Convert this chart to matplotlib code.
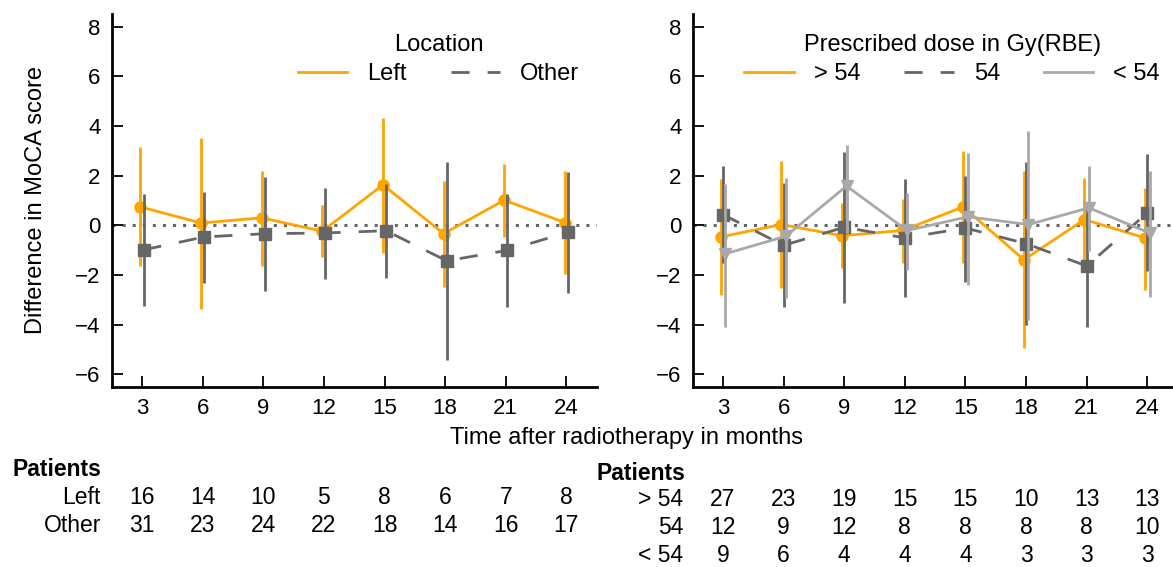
import numpy as np
import matplotlib.pyplot as plt
from matplotlib import transforms

plt.rcParams['font.family'] = ['Liberation Sans', 'DejaVu Sans']

months = [3, 6, 9, 12, 15, 18, 21, 24]

# Location: mean difference and confidence interval per time point
left_mean = [0.74, 0.09, 0.30, -0.24, 1.63, -0.34, 1.01, 0.11]
left_lo = [-1.66, -3.37, -1.62, -1.26, -1.10, -2.47, -0.47, -1.96]
left_hi = [3.16, 3.50, 2.20, 0.82, 4.33, 1.77, 2.46, 2.20]
other_mean = [-0.99, -0.47, -0.34, -0.31, -0.22, -1.43, -1.01, -0.28]
other_lo = [-3.24, -2.33, -2.65, -2.16, -2.13, -5.41, -3.28, -2.73]
other_hi = [1.27, 1.35, 1.94, 1.51, 1.67, 2.54, 1.27, 2.13]

# Prescribed dose groups
high_mean = [-0.47, 0.03, -0.42, -0.21, 0.74, -1.39, 0.23, -0.51]
high_lo = [-2.81, -2.53, -1.72, -1.50, -1.52, -4.96, -1.50, -2.60]
high_hi = [1.85, 2.59, 0.91, 1.07, 3.00, 2.19, 1.92, 1.51]
mid_mean = [0.43, -0.81, -0.08, -0.51, -0.11, -0.74, -1.64, 0.50]
mid_lo = [-1.52, -3.28, -3.12, -2.87, -2.27, -4.02, -4.09, -1.86]
mid_hi = [2.39, 1.72, 2.96, 1.85, 1.98, 2.53, 0.85, 2.86]
low_mean = [-1.15, -0.44, 1.58, -0.21, 0.34, 0.03, 0.70, -0.31]
low_lo = [-4.09, -2.94, -0.30, -1.79, -2.40, -3.82, -1.05, -2.87]
low_hi = [1.65, 1.92, 3.23, 1.28, 2.93, 3.81, 2.39, 2.19]

# patients per group and time point
n_left = [16, 14, 10, 5, 8, 6, 7, 8]
n_other = [31, 23, 24, 22, 18, 14, 16, 17]
n_high = [27, 23, 19, 15, 15, 10, 13, 13]
n_mid = [12, 9, 12, 8, 8, 8, 8, 10]
n_low = [9, 6, 4, 4, 4, 3, 3, 3]

ORANGE = '#FFA500'
DARK = '#666666'
LIGHT = '#A9A9A9'
LW = 2.0
DASH = (6.5, 6.5)
TICK_FS = 16
TABLE_FS = 16.5
LABEL_FS = 17


def draw_series(ax, offset, mean, lo, hi, color, marker, dashed, z):
    x = np.arange(len(mean)) + offset
    ax.vlines(x, lo, hi, color=color, lw=LW, zorder=z)
    line, = ax.plot(x, mean, color=color, lw=LW, marker=marker, ms=8,
                    mec=color, zorder=z + 0.5, solid_joinstyle='round')
    if dashed:
        line.set_dashes(DASH)
    # plain line for the legend
    handle = plt.Line2D([], [], color=color, lw=LW)
    if dashed:
        handle.set_dashes(DASH)
    return handle


def style_axes(ax):
    ax.axhline(0, color=DARK, lw=2.2, dashes=(1, 2.3), zorder=1)
    ax.set_xlim(-0.5, 7.5)
    ax.set_ylim(-6.5, 8.5)
    ax.set_yticks([-6, -4, -2, 0, 2, 4, 6, 8])
    ax.set_xticks(range(len(months)))
    ax.set_xticklabels([str(m) for m in months])
    for side in ('top', 'right'):
        ax.spines[side].set_visible(False)
    for side in ('left', 'bottom'):
        ax.spines[side].set_linewidth(2)
    ax.tick_params(direction='in', length=8, width=1.3, labelsize=TICK_FS)
    ax.tick_params(axis='x', pad=8.5)
    ax.tick_params(axis='y', pad=8)


fig = plt.figure(figsize=(11.73, 5.67), dpi=100)
ax1 = fig.add_axes([0.0952, 0.318, 0.4135, 0.657])
ax2 = fig.add_axes([0.5905, 0.318, 0.4135, 0.657])

style_axes(ax1)
style_axes(ax2)

h_left = [
    draw_series(ax1, -0.025, left_mean, left_lo, left_hi, ORANGE, 'o', False, 2),
    draw_series(ax1, 0.025, other_mean, other_lo, other_hi, DARK, 's', True, 3),
]
h_dose = [
    draw_series(ax2, -0.0375, high_mean, high_lo, high_hi, ORANGE, 'o', False, 2),
    draw_series(ax2, 0.0, mid_mean, mid_lo, mid_hi, DARK, 's', True, 3),
    draw_series(ax2, 0.0375, low_mean, low_lo, low_hi, LIGHT, 'v', False, 4),
]

ax1.set_ylabel('Difference in MoCA score', fontsize=LABEL_FS)
ax1.yaxis.set_label_coords(-0.133, 0.5)

leg_kw = dict(frameon=False, loc='upper center', fontsize=LABEL_FS,
              title_fontsize=LABEL_FS, handlelength=2.1, handletextpad=0.85,
              columnspacing=1.85, labelspacing=0.3)
ax1.legend(h_left, ['Left', 'Other'], title='Location', ncol=2,
           bbox_to_anchor=(0.674, 1.003), **leg_kw)
ax2.legend(h_dose, ['> 54', '54', '< 54'], title='Prescribed dose in Gy(RBE)',
           ncol=3, bbox_to_anchor=(0.535, 1.003), **leg_kw)

fig.text(627 / 1173, 1 - 438 / 567, 'Time after radiotherapy in months',
         ha='center', va='center', fontsize=LABEL_FS)


# patient counts under each panel
def count_table(ax, rows, title_xy, label_x):
    trans = transforms.blended_transform_factory(ax.transData, fig.transFigure)
    fig.text(title_xy[0], title_xy[1], 'Patients', fontsize=TABLE_FS,
             fontweight='bold', ha='left', va='center')
    for label, counts, ypix in rows:
        y = 1 - ypix / 567
        fig.text(label_x, y, label, fontsize=TABLE_FS, ha='right', va='center')
        for i, c in enumerate(counts):
            ax.text(i, y, str(c), transform=trans, fontsize=TABLE_FS,
                    ha='center', va='center', clip_on=False)


count_table(ax1, [('Left', n_left, 497), ('Other', n_other, 525)],
            (12 / 1173, 1 - 470 / 567), 101 / 1173)
count_table(ax2, [('> 54', n_high, 500), ('54', n_mid, 527), ('< 54', n_low, 555)],
            (596 / 1173, 1 - 474 / 567), 683 / 1173)

fig.savefig('out.png', dpi=100)
